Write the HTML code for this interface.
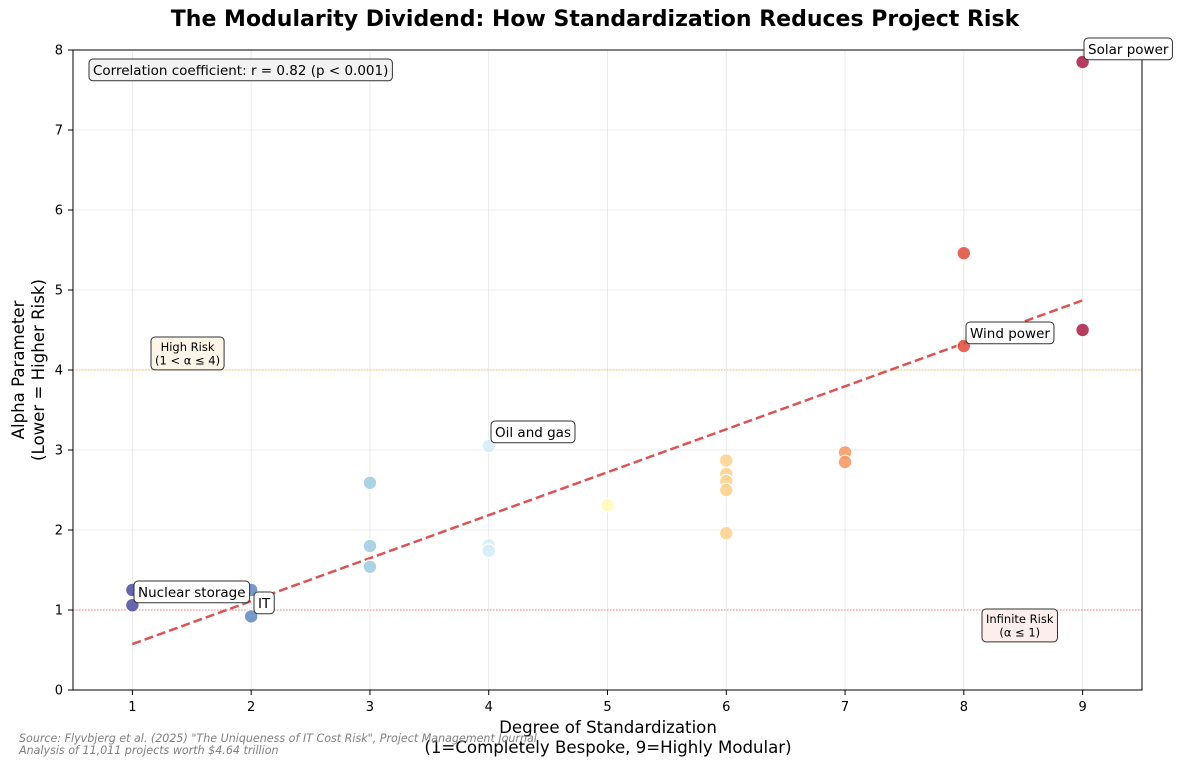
<!DOCTYPE html>
<html><head><meta charset="utf-8">
<style>
body{margin:0;background:#fff;font-family:"DejaVu Sans","Liberation Sans",sans-serif;}
svg{display:block}
</style></head>
<body>
<svg id="chart" width="1182" height="768" xmlns="http://www.w3.org/2000/svg" font-family="DejaVu Sans, Liberation Sans, sans-serif">
<text x="595" y="26" text-anchor="middle" font-size="22" font-weight="bold">The Modularity Dividend: How Standardization Reduces Project Risk</text>
<g id="grid"></g>
<g id="refs"></g>
<g id="trend"></g>
<g id="points"></g>
<rect x="73" y="50" width="1069" height="640" fill="none" stroke="#000" stroke-width="1"/>
<g id="ticks"></g>
<g id="annots"></g>
<text x="608" y="733" text-anchor="middle" font-size="16.6">Degree of Standardization</text>
<text x="608" y="753" text-anchor="middle" font-size="16.6">(1=Completely Bespoke, 9=Highly Modular)</text>
<g transform="translate(24,370) rotate(-90)">
<text x="0" y="0" text-anchor="middle" font-size="16.6">Alpha Parameter</text>
<text x="0" y="20" text-anchor="middle" font-size="16.6">(Lower = Higher Risk)</text>
</g>
<text x="19" y="742" font-size="11.1" font-style="italic" fill="#808080">Source: Flyvbjerg et al. (2025) "The Uniqueness of IT Cost Risk", Project Management Journal</text>
<text x="19" y="754" font-size="11.1" font-style="italic" fill="#808080">Analysis of 11,011 projects worth $4.64 trillion</text>
</svg>
<script>
const xs = [1,1,2,2,3,3,3,4,4,4,5,6,6,6,6,6,7,7,8,8,9,9];
const alphas = [1.25,1.06,1.25,0.92,2.59,1.80,1.54,3.05,1.81,1.74,2.31,2.87,2.70,2.61,2.50,1.96,2.97,2.85,5.46,4.30,7.85,4.50];
const xTicks = [1,2,3,4,5,6,7,8,9];
const yTicks = [0,1,2,3,4,5,6,7,8];
const colorMap = {1:'#4b4aa0',2:'#5f87c0',3:'#9ccbe2',4:'#d4edf4',5:'#fdfdb8',6:'#fdd188',7:'#f9935d',8:'#e14a38',9:'#ad1a44'};
const X = v => 73 + (v-0.5)*(1069/9);
const Y = v => 690 - v*80;
const NS='http://www.w3.org/2000/svg';
function mk(tag, attrs, parent){const e=document.createElementNS(NS,tag);for(const k in attrs)e.setAttribute(k,attrs[k]);parent.appendChild(e);return e;}
const grid=document.getElementById('grid'), ticks=document.getElementById('ticks');
xTicks.forEach(t=>{
  const l=mk('line',{x1:X(t),x2:X(t),y1:50,y2:690,stroke:'#e6e6e6','stroke-width':0.8},grid);
  
  
  mk('line',{x1:X(t),x2:X(t),y1:690,y2:695,stroke:'#000'},ticks);
  const tx=mk('text',{x:X(t),y:711,'text-anchor':'middle','font-size':13},ticks);tx.textContent=t;
  
  
});
yTicks.forEach(t=>{
  const l=mk('line',{x1:73,x2:1142,y1:Y(t),y2:Y(t),stroke:'#e6e6e6','stroke-width':0.8},grid);
  
  
  mk('line',{x1:68,x2:73,y1:Y(t),y2:Y(t),stroke:'#000'},ticks);
  const tx=mk('text',{x:63,y:Y(t)+4.5,'text-anchor':'end','font-size':13},ticks);tx.textContent=t;
  
  
});
const refs=document.getElementById('refs');
const r1=mk('line',{x1:73,x2:1142,y1:Y(1),y2:Y(1),stroke:'#f08080','stroke-width':1,'stroke-dasharray':'1.5,1.5'},refs);


const r4=mk('line',{x1:73,x2:1142,y1:Y(4),y2:Y(4),stroke:'#f5c060','stroke-width':1,'stroke-dasharray':'1.5,1.5'},refs);


const n=xs.length, mx=xs.reduce((a,b)=>a+b)/n, my=alphas.reduce((a,b)=>a+b)/n;
let sxy=0,sxx=0;for(let i=0;i<n;i++){sxy+=(xs[i]-mx)*(alphas[i]-my);sxx+=(xs[i]-mx)**2;}
const slope=sxy/sxx, icpt=my-slope*mx;
const tl=mk('line',{x1:X(1),y1:Y(icpt+slope),x2:X(9),y2:Y(icpt+slope*9),stroke:'#d62728','stroke-opacity':0.8,'stroke-width':2.5,'stroke-dasharray':'9,4'},document.getElementById('trend'));


const pts=document.getElementById('points');
xs.forEach((x,i)=>{
  const c=mk('circle',{cx:X(x),cy:Y(alphas[i]),r:6.8,fill:colorMap[x],'fill-opacity':0.85,stroke:'#fff','stroke-width':1.2},pts);
  
  
});
const an=document.getElementById('annots');
function box(x,y,lines,fs,fill,name){
  const g=mk('g',{},an);
  
  
  const rect=mk('rect',{x:x,y:y,rx:4,fill:fill,stroke:'#333','stroke-width':1},g);
  const txts=lines.map((s,k)=>{const t=mk('text',{y:y+3+fs*(k+1)*1.17-fs*0.22,'text-anchor':'middle','font-size':fs},g);t.textContent=s;return t;});
  let w=0;txts.forEach(t=>{w=Math.max(w,t.getComputedTextLength());});
  w+=8;
  txts.forEach(t=>t.setAttribute('x',x+w/2));
  rect.setAttribute('width',w);
  rect.setAttribute('height',lines.length*fs*1.17+6);
}
box(89,59,['Correlation coefficient: r = 0.82 (p < 0.001)'],13.5,'#f2f2f2','correlation-box');
box(151,337,['High Risk','(1 < α ≤ 4)'],11.5,'#fdf5e8','high-risk-label');
box(982,609,['Infinite Risk','(α ≤ 1)'],11.5,'#fdeeee','infinite-risk-label');
box(1084,38,['Solar power'],13.5,'#fff','solar-power-label');
box(966,322,['Wind power'],13.5,'#fff','wind-power-label');
box(491,421,['Oil and gas'],13.5,'#fff','oil-gas-label');
box(134,581,['Nuclear storage'],13.5,'#fff','nuclear-storage-label');
box(254,592,['IT'],13.5,'#fff','it-label');
</script>
</body></html>
